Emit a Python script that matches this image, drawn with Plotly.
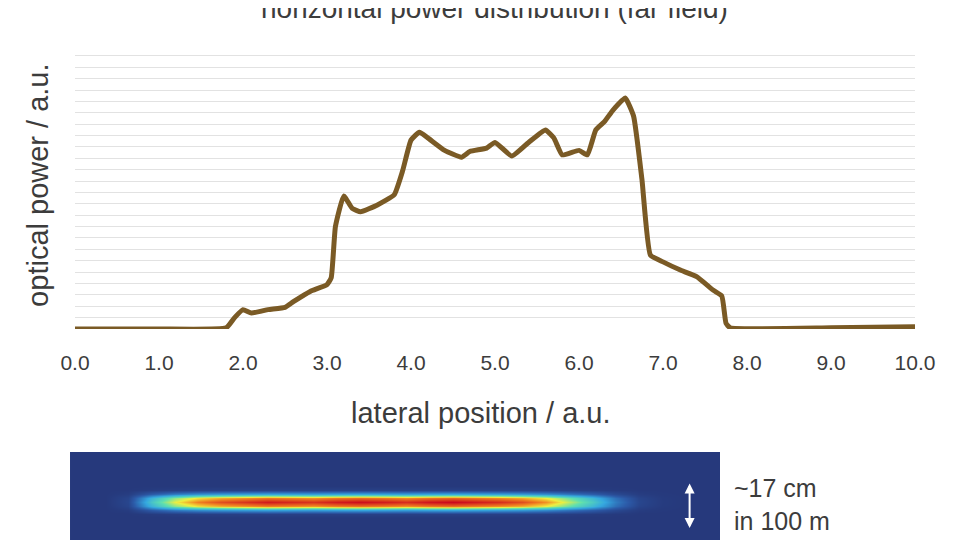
import plotly.graph_objects as go

# far-field profile
pos = [0.0, 1.0, 1.8, 1.9, 2.0, 2.1, 2.3, 2.5, 2.6, 2.8, 3.0, 3.05, 3.1, 3.2, 3.3, 3.4, 3.6, 3.8,
       3.9, 4.0, 4.1, 4.2, 4.4, 4.6, 4.7, 4.9, 5.0, 5.2, 5.4, 5.6, 5.7, 5.8, 6.0, 6.1, 6.2,
       6.3, 6.4, 6.55, 6.65, 6.75, 6.85, 7.0, 7.2, 7.4, 7.6, 7.7, 7.75, 7.8, 9.0, 10.0]
power = [0.0, 0.0, 0.1, 1.0, 1.7, 1.4, 1.7, 1.9, 2.4, 3.3, 3.9, 4.5, 9.0, 11.7, 10.6, 10.3, 10.9, 11.8,
         13.9, 16.6, 17.3, 16.8, 15.7, 15.1, 15.6, 15.9, 16.4, 15.2, 16.4, 17.5, 16.8, 15.3, 15.7, 15.3, 17.5,
         18.2, 19.2, 20.3, 18.7, 13.1, 6.5, 5.9, 5.2, 4.6, 3.4, 2.9, 0.5, 0.1, 0.1, 0.2]
xticks = [0, 1, 2, 3, 4, 5, 6, 7, 8, 9, 10]
xlabels = ["0.0", "1.0", "2.0", "3.0", "4.0", "5.0", "6.0", "7.0", "8.0", "9.0", "10.0"]

# beam image: intensity along the stripe and across it
beam_cols = [0, 0, 0.05, 0.4, 0.65, 0.8, 0.88, 0.92, 0.96, 0.94, 0.92, 0.96, 0.98,
             0.96, 0.93, 0.97, 0.99, 0.96, 0.93, 0.88, 0.78, 0.6, 0.42, 0.2, 0.05, 0.01, 0, 0]
beam_rows = [0, 0, 0, 0, 0, 0, 0, 0, 0.03, 0.3, 0.85, 1.0, 0.85, 0.3, 0.03,
             0, 0, 0, 0, 0, 0, 0, 0, 0]
beam = [[r * c for c in beam_cols] for r in beam_rows]

fig = go.Figure()
fig.add_trace(go.Scatter(x=pos, y=power, mode="lines",
                         line=dict(color="#7a5a25", width=5, shape="spline", smoothing=0.4),
                         xaxis="x", yaxis="y", hoverinfo="skip"))
fig.add_trace(go.Heatmap(z=beam, xaxis="x2", yaxis="y2", zsmooth="best", showscale=False,
                         zmin=0, zmax=1, hoverinfo="skip",
                         colorscale=[[0, "#26397c"], [0.12, "#2c5aa8"], [0.3, "#35a8e0"],
                                     [0.5, "#5fe0b0"], [0.66, "#f0f040"], [0.8, "#f08020"],
                                     [1, "#c8001c"]]))

font = "Liberation Sans, Arial, sans-serif"
fig.update_layout(
    width=960, height=540, margin=dict(l=0, r=0, t=0, b=0, autoexpand=False),
    paper_bgcolor="white", plot_bgcolor="white", showlegend=False,
    font=dict(family=font, color="#3c3c3c"),
    xaxis=dict(domain=[0.0698, 0.9448], range=[0, 10], tickvals=xticks, ticktext=xlabels,
               showgrid=False, zeroline=False, showline=False, ticks="", automargin=False,
               ticklabelstandoff=19, tickfont=dict(size=21), anchor="y"),
    yaxis=dict(domain=[0.4056, 0.9333], range=[0, 25.05], dtick=1, showticklabels=False,
               automargin=False, gridcolor="#e2e2e2", gridwidth=1.2, zeroline=False, showline=False),
    xaxis2=dict(domain=[0.0646, 0.7417], visible=False, anchor="y2", automargin=False),
    yaxis2=dict(domain=[0, 0.178], visible=False, anchor="x2", automargin=False),
    annotations=[
        dict(text="horizontal power distribution (far field)", x=0.507, y=1.0, xref="paper",
             yref="paper", yanchor="middle", showarrow=False, font=dict(size=28)),
        dict(text="lateral position / a.u.", x=0.493, y=0.25, xref="paper", yref="paper",
             yanchor="middle", showarrow=False, font=dict(size=29)),
        dict(text="optical power / a.u.", x=0.031, y=0.672, xref="paper", yref="paper",
             xanchor="center", yanchor="middle",
             textangle=-90, showarrow=False, font=dict(size=29)),
        dict(x=0.710, y=0.037, ax=0, ay=-46, xref="paper", yref="paper",
             showarrow=True, arrowside="end+start", arrowhead=2, arrowsize=1,
             arrowwidth=2, arrowcolor="white", text=""),
        dict(text="~17 cm<br>in 100 m", x=0.754, y=0.08, xref="paper", yref="paper",
             xanchor="left", yanchor="middle", align="left", showarrow=False,
             font=dict(size=25, family="Liberation Sans Narrow, Arial Narrow, sans-serif")),
    ],
)
fig.write_html("out.html")
